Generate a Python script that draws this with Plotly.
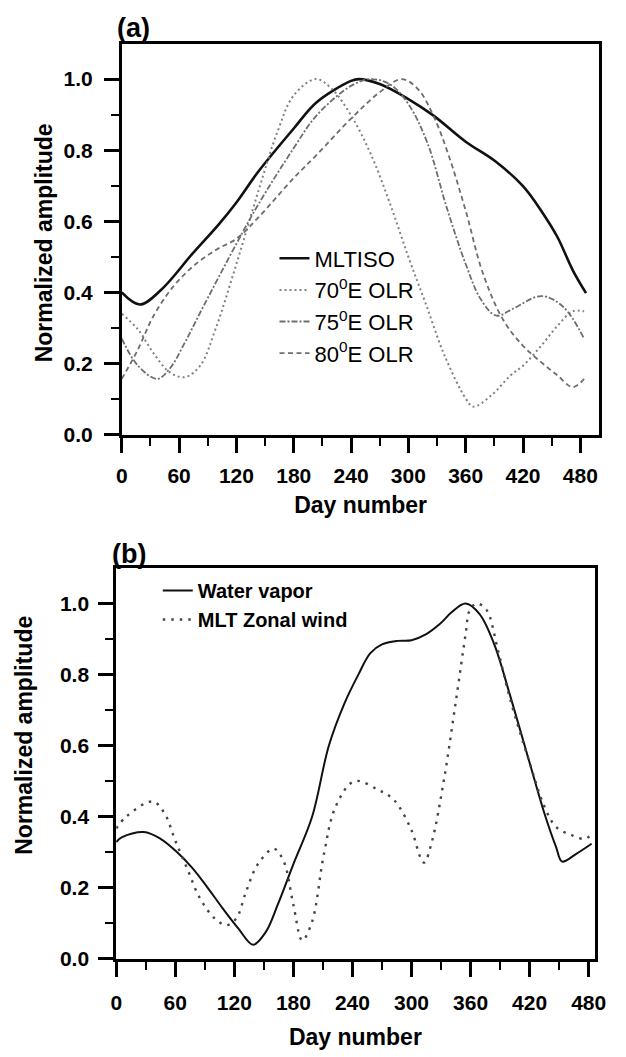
import plotly.graph_objects as go

# ---------------- Panel (a) data ----------------
mltiso_day = [0, 19, 41, 74, 102, 120, 143, 180, 204, 240, 248, 270, 300, 326, 360, 391, 420, 439, 456, 472, 486]
mltiso_val = [0.40, 0.366, 0.407, 0.509, 0.593, 0.653, 0.74, 0.861, 0.935, 0.995, 1.0, 0.986, 0.944, 0.898, 0.824, 0.769, 0.699, 0.63, 0.556, 0.463, 0.398]

olr70_day = [0, 17, 33, 50, 66, 82, 98, 120, 143, 163, 180, 203, 220, 240, 261, 281, 300, 318, 338, 360, 368, 387, 407, 420, 439, 456, 472, 484]
olr70_val = [0.34, 0.296, 0.23, 0.176, 0.162, 0.194, 0.296, 0.48, 0.685, 0.852, 0.954, 1.0, 0.972, 0.898, 0.787, 0.648, 0.5, 0.37, 0.222, 0.102, 0.079, 0.111, 0.167, 0.194, 0.25, 0.306, 0.347, 0.347]

olr75_day = [0, 17, 37, 50, 66, 82, 120, 143, 180, 204, 240, 260, 281, 300, 320, 340, 360, 376, 392, 410, 439, 462, 484]
olr75_val = [0.27, 0.194, 0.157, 0.185, 0.259, 0.343, 0.537, 0.648, 0.806, 0.898, 0.981, 1.0, 0.985, 0.93, 0.82, 0.64, 0.48, 0.38, 0.335, 0.355, 0.39, 0.36, 0.27]

olr80_day = [0, 17, 33, 54, 74, 98, 120, 143, 180, 204, 240, 270, 293, 310, 326, 342, 360, 378, 399, 420, 439, 456, 472, 484]
olr80_val = [0.157, 0.24, 0.333, 0.417, 0.472, 0.519, 0.551, 0.611, 0.722, 0.787, 0.889, 0.963, 1.0, 0.972, 0.898, 0.787, 0.63, 0.454, 0.324, 0.25, 0.204, 0.167, 0.134, 0.157]

# ---------------- Panel (b) data ----------------
wv_day = [0, 6, 28, 45, 60, 77, 93, 108, 124, 139, 152, 164, 180, 199, 216, 232, 246, 258, 270, 286, 300, 315, 329, 341, 355, 369, 384, 400, 420, 435, 447, 453, 467, 483]
wv_val = [0.329, 0.343, 0.357, 0.338, 0.305, 0.257, 0.2, 0.143, 0.086, 0.04, 0.076, 0.152, 0.267, 0.40, 0.60, 0.72, 0.80, 0.86, 0.885, 0.895, 0.897, 0.914, 0.943, 0.976, 1.0, 0.971, 0.886, 0.743, 0.552, 0.41, 0.314, 0.274, 0.295, 0.324]

zw_day = [0, 10, 37, 49, 60, 73, 85, 100, 112, 122, 132, 144, 160, 170, 180, 189, 199, 211, 223, 242, 266, 282, 300, 309, 313, 321, 333, 345, 355, 359, 366, 376, 388, 400, 420, 435, 447, 463, 475, 483]
zw_val = [0.367, 0.4, 0.443, 0.41, 0.333, 0.248, 0.171, 0.114, 0.095, 0.114, 0.19, 0.267, 0.31, 0.276, 0.152, 0.052, 0.105, 0.295, 0.429, 0.5, 0.476, 0.448, 0.362, 0.286, 0.271, 0.333, 0.505, 0.724, 0.914, 0.98, 1.0, 0.983, 0.867, 0.733, 0.552, 0.429, 0.371, 0.348, 0.338, 0.348]

x_ticks = [0, 60, 120, 180, 240, 300, 360, 420, 480]
y_ticks = [0.0, 0.2, 0.4, 0.6, 0.8, 1.0]

W, H = 626, 1057
FONT = "Liberation Sans"

fig = go.Figure()

spl = dict(shape="spline", smoothing=1.0)

fig.add_trace(go.Scatter(x=mltiso_day, y=mltiso_val, mode="lines", name="MLTISO",
                         line=dict(color="#111111", width=2.6, **spl), xaxis="x", yaxis="y", legend="legend"))
fig.add_trace(go.Scatter(x=olr70_day, y=olr70_val, mode="lines", name="70<sup>0</sup>E OLR",
                         line=dict(color="#808080", width=2, dash="2px,3px", **spl), xaxis="x", yaxis="y", legend="legend"))
fig.add_trace(go.Scatter(x=olr75_day, y=olr75_val, mode="lines", name="75<sup>0</sup>E OLR",
                         line=dict(color="#6e6e6e", width=1.8, dash="6px,2px,2px,2px", **spl), xaxis="x", yaxis="y", legend="legend"))
fig.add_trace(go.Scatter(x=olr80_day, y=olr80_val, mode="lines", name="80<sup>0</sup>E OLR",
                         line=dict(color="#6e6e6e", width=1.8, dash="5px,3.5px", **spl), xaxis="x", yaxis="y", legend="legend"))

fig.add_trace(go.Scatter(x=wv_day, y=wv_val, mode="lines", name="Water vapor",
                         line=dict(color="#111111", width=2, **spl), xaxis="x2", yaxis="y2", legend="legend2"))
fig.add_trace(go.Scatter(x=zw_day, y=zw_val, mode="lines", name="MLT Zonal wind",
                         line=dict(color="#444444", width=2.4, dash="2.5px,6px", **spl), xaxis="x2", yaxis="y2", legend="legend2"))

tickfont = dict(family=FONT, size=21, color="black", weight="bold")
title_font = dict(family=FONT, size=23, color="black", weight="bold")
common = dict(showline=True, linecolor="black", linewidth=2.8, mirror=True,
              ticks="outside", ticklen=15, tickwidth=2.6, tickcolor="black",
              showgrid=False, zeroline=False, tickfont=tickfont)

def xax(domain, rng, anchor, standoff, title_standoff):
    return dict(common, domain=domain, range=rng, anchor=anchor,
                tickmode="array", tickvals=x_ticks, ticktext=[str(v) for v in x_ticks],
                ticklabelstandoff=standoff,
                title=dict(text="Day number", font=title_font, standoff=title_standoff),
                minor=dict(ticks="outside", ticklen=8, tickwidth=2.4, tickcolor="black",
                           tickmode="array", tickvals=[30, 90, 150, 210, 270, 330, 390, 450]))

def yax(domain, anchor, standoff):
    return dict(common, domain=domain, range=[0, 1.1], anchor=anchor,
                tickmode="array", tickvals=y_ticks, ticktext=["%.1f" % v for v in y_ticks],
                ticklabelstandoff=standoff,
                minor=dict(ticks="outside", ticklen=8, tickwidth=2.4, tickcolor="black",
                           tickmode="array", tickvals=[0.1, 0.3, 0.5, 0.7, 0.9]))

fig.update_layout(
    width=W, height=H, margin=dict(l=0, r=0, t=0, b=0),
    paper_bgcolor="white", plot_bgcolor="white",
    xaxis=xax([119 / W, 610 / W], [0, 500], "y", 5, 12),
    yaxis=yax([1 - 439.3 / H, 1 - 44 / H], "x", 7),
    xaxis2=xax([113.3 / W, 605 / W], [0, 486], "y2", 8, 16),
    yaxis2=yax([1 - 969 / H, 1 - 574 / H], "x2", 5),
    legend=dict(x=276 / W, y=1 - 240 / H, xanchor="left", yanchor="top",
                bgcolor="rgba(0,0,0,0)", font=dict(family=FONT, size=22, color="black"),
                tracegroupgap=0),
    legend2=dict(x=156 / W, y=1 - 577 / H, xanchor="left", yanchor="top",
                 bgcolor="rgba(0,0,0,0)", font=dict(family=FONT, size=20, color="black", weight="bold"),
                 tracegroupgap=0),
    showlegend=True,
)

ann = [
    dict(text="(a)", x=112 / W, y=1 - 28 / H, xanchor="left", yanchor="middle",
         font=dict(family=FONT, size=27, color="black", weight="bold")),
    dict(text="(b)", x=107 / W, y=1 - 560 / H, xanchor="left", yanchor="middle",
         font=dict(family=FONT, size=27, color="black", weight="bold")),
    dict(text="Normalized amplitude", x=40 / W, y=1 - 245 / H, xanchor="center", yanchor="middle",
         textangle=-90, font=title_font),
    dict(text="Normalized amplitude", x=19 / W, y=1 - 743 / H, xanchor="center", yanchor="middle",
         textangle=-90, font=title_font),
]
for a in ann:
    a.update(xref="paper", yref="paper", showarrow=False)
fig.update_layout(annotations=ann)

fig.write_html("out.html")
